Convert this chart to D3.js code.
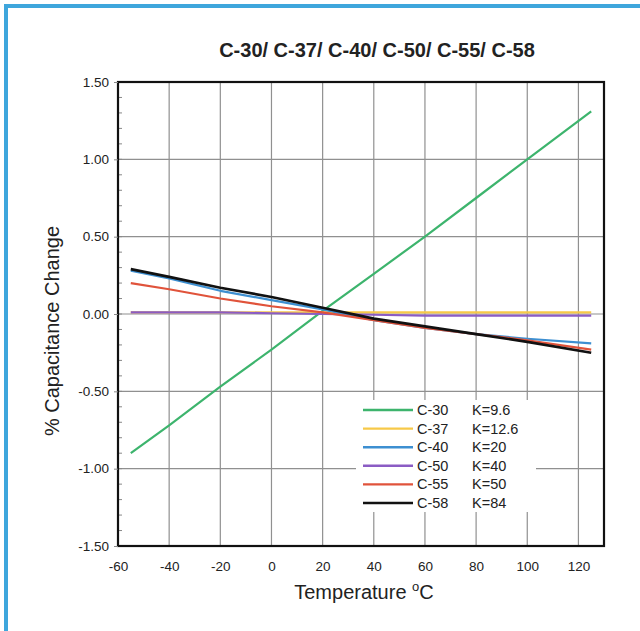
<!DOCTYPE html>
<html><head><meta charset="utf-8">
<script src="https://cdn.jsdelivr.net/npm/d3@7"></script>
<style>body{margin:0;background:#fff;} svg{display:block;font-family:"Liberation Sans",Arial,sans-serif;}</style>
</head><body>
<script>
const temps = [-55, -40, -20, 0, 20, 40, 60, 80, 100, 125];
const c30 = [-0.90, -0.72, -0.47, -0.23, 0.02, 0.26, 0.50, 0.75, 1.00, 1.31];
const c37 = [0.01, 0.01, 0.01, 0.01, 0.01, 0.01, 0.01, 0.01, 0.01, 0.01];
const c40 = [0.28, 0.23, 0.15, 0.09, 0.03, -0.04, -0.09, -0.13, -0.16, -0.19];
const c50 = [0.01, 0.01, 0.01, 0.005, 0.0, -0.005, -0.01, -0.01, -0.01, -0.01];
const c55 = [0.20, 0.16, 0.10, 0.05, 0.01, -0.04, -0.09, -0.13, -0.17, -0.23];
const c58 = [0.29, 0.24, 0.17, 0.11, 0.04, -0.03, -0.08, -0.13, -0.18, -0.25];
const seriesNames = ["C-30", "C-37", "C-40", "C-50", "C-55", "C-58"];
const kValues = ["K=9.6", "K=12.6", "K=20", "K=40", "K=50", "K=84"];
const colors = ["#3db46d", "#f7c948", "#3d8fd1", "#8b5cc4", "#e0533b", "#111111"];
const xTicks = [-60, -40, -20, 0, 20, 40, 60, 80, 100, 120];
const yTicks = [1.5, 1.0, 0.5, 0.0, -0.5, -1.0, -1.5];
const seriesValues = [c30, c37, c40, c50, c55, c58];

const W = 640, H = 631;
const svg = d3.select("body").append("svg").attr("width", W).attr("height", H);
svg.append("rect").attr("x", 6).attr("y", 6).attr("width", 700).attr("height", 700)
  .attr("fill", "none").attr("stroke", "#3ea6dc").attr("stroke-width", 4);

const x = d3.scaleLinear().domain([-60, 130]).range([118, 604]);
const y = d3.scaleLinear().domain([-1.5, 1.5]).range([546, 82]);

// title
svg.append("text").attr("x", 377).attr("y", 57).attr("text-anchor", "middle")
  .attr("font-weight", "bold").attr("font-size", 20).attr("fill", "#222")
  .text("C-30/ C-37/ C-40/ C-50/ C-55/ C-58");

// grid
const g = svg.append("g");
g.selectAll(".vg").data(xTicks.filter(t => t > -60)).enter().append("line")
  .attr("x1", d => x(d)).attr("x2", d => x(d)).attr("y1", y(1.5)).attr("y2", y(-1.5))
  .attr("stroke", "#909090").attr("stroke-width", 1.2);
g.selectAll(".hg").data(yTicks.filter(t => t < 1.5 && t > -1.5)).enter().append("line")
  .attr("x1", x(-60)).attr("x2", x(130)).attr("y1", d => y(d)).attr("y2", d => y(d))
  .attr("stroke", "#909090").attr("stroke-width", 1.2);

// minor ticks on left axis
const minor = d3.range(-1.5, 1.5001, 0.1).map(v => +v.toFixed(2));
g.selectAll(".mt").data(minor).enter().append("line")
  .attr("x1", x(-60)).attr("x2", x(-60) + 4).attr("y1", d => y(d)).attr("y2", d => y(d))
  .attr("stroke", "#888").attr("stroke-width", 1);

// lines
const line = d3.line().x(d => x(d[0])).y(d => y(d[1]));
const drawOrder = [0, 1, 3, 2, 4, 5];
drawOrder.forEach(i => {
  svg.append("path").datum(temps.map((t, j) => [t, seriesValues[i][j]]))
    .attr("d", line).attr("fill", "none").attr("stroke", colors[i])
    .attr("stroke-width", i === 5 ? 2.6 : 2.2).attr("stroke-linejoin", "round");
});

// frame
svg.append("rect").attr("x", x(-60)).attr("y", y(1.5))
  .attr("width", x(130) - x(-60)).attr("height", y(-1.5) - y(1.5))
  .attr("fill", "none").attr("stroke", "#111").attr("stroke-width", 2.2);

// y axis
const yAxis = d3.axisLeft(y).tickValues(yTicks).tickFormat(d => d.toFixed(2)).tickSize(4).tickPadding(5);
const ya = svg.append("g").attr("transform", `translate(${x(-60)},0)`).call(yAxis);
ya.select(".domain").remove();
ya.selectAll("line").attr("stroke", "#888");
ya.selectAll("text").attr("font-size", 13.5).attr("fill", "#222").attr("font-family", "Liberation Sans, Arial, sans-serif");

// x axis
const xAxis = d3.axisBottom(x).tickValues(xTicks).tickFormat(d => String(d)).tickSize(0).tickPadding(15);
const xa = svg.append("g").attr("transform", `translate(0,${y(-1.5)})`).call(xAxis);
xa.select(".domain").remove();
xa.selectAll("text").attr("font-size", 13.5).attr("fill", "#222").attr("font-family", "Liberation Sans, Arial, sans-serif");

// axis titles
const xt = svg.append("text").attr("x", 364).attr("y", 599).attr("text-anchor", "middle")
  .attr("font-size", 20).attr("fill", "#222");
xt.append("tspan").text("Temperature ");
xt.append("tspan").attr("font-size", 13).attr("dy", -8).text("o");
xt.append("tspan").attr("dy", 8).text("C");

svg.append("text").attr("transform", "translate(59,331) rotate(-90)").attr("text-anchor", "middle")
  .attr("font-size", 20).attr("fill", "#222").text("% Capacitance Change");

// legend
svg.append("rect").attr("x", 356).attr("y", 400).attr("width", 180).attr("height", 112).attr("fill", "#fff");
const leg = svg.append("g");
seriesNames.forEach((n, i) => {
  const yy = 410 + i * 18.6;
  leg.append("line").attr("x1", 363).attr("x2", 413).attr("y1", yy).attr("y2", yy)
    .attr("stroke", colors[i]).attr("stroke-width", 2.4);
  leg.append("text").attr("x", 417).attr("y", yy + 5).attr("font-size", 14.5).attr("fill", "#222").text(n);
  leg.append("text").attr("x", 472).attr("y", yy + 5).attr("font-size", 14.5).attr("fill", "#222").text(kValues[i]);
});
</script>
</body></html>
